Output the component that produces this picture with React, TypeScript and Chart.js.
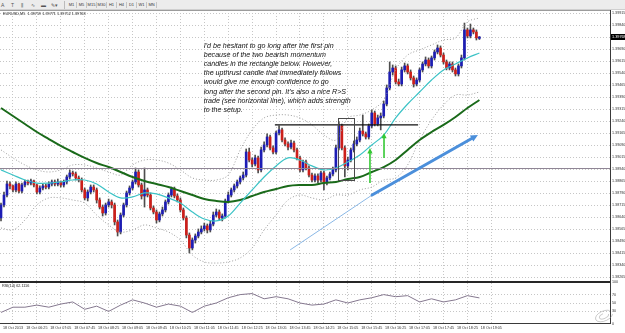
import { useEffect, useRef } from "react";
import { Chart, registerables } from "chart.js";

Chart.register(...registerables);

// ---- EURUSD M5 price data (one entry per bar) ----
const open = [
  1.38637, 1.38718, 1.38780, 1.38849, 1.38837, 1.38812, 1.38849, 1.38805, 1.38843, 1.38862,
  1.38855, 1.38868, 1.38843, 1.38799, 1.38824, 1.38837, 1.38830, 1.38849, 1.38862, 1.38849,
  1.38862, 1.38843, 1.38862, 1.38893, 1.38918, 1.38912, 1.38887, 1.38874, 1.38812, 1.38762,
  1.38799, 1.38830, 1.38812, 1.38749, 1.38705, 1.38668, 1.38718, 1.38737, 1.38718, 1.38612,
  1.38549, 1.38655, 1.38718, 1.38793, 1.38824, 1.38862, 1.38924, 1.38843, 1.38774, 1.38812,
  1.38780, 1.38699, 1.38674, 1.38624, 1.38662, 1.38687, 1.38737, 1.38780, 1.38818, 1.38774,
  1.38749, 1.38687, 1.38637, 1.38530, 1.38449, 1.38499, 1.38524, 1.38549, 1.38568, 1.38587,
  1.38562, 1.38599, 1.38655, 1.38674, 1.38637, 1.38649, 1.38743, 1.38780, 1.38812, 1.38837,
  1.38862, 1.38887, 1.38905, 1.39049, 1.38999, 1.38974, 1.39012, 1.38937, 1.39062, 1.39093,
  1.39143, 1.39074, 1.39049, 1.39168, 1.39187, 1.39124, 1.39099, 1.39080, 1.39105, 1.39062,
  1.39012, 1.38937, 1.38987, 1.38949, 1.38905, 1.38874, 1.38899, 1.38874, 1.38918, 1.38862,
  1.38887, 1.38912, 1.38937, 1.39074, 1.39212, 1.39074, 1.38962, 1.38999, 1.39062, 1.39099,
  1.39124, 1.39180, 1.39162, 1.39143, 1.39212, 1.39293, 1.39224, 1.39262, 1.39274, 1.39349,
  1.39449, 1.39549, 1.39574, 1.39487, 1.39474, 1.39562, 1.39587, 1.39549, 1.39512, 1.39474,
  1.39499, 1.39562, 1.39599, 1.39624, 1.39587, 1.39637, 1.39674, 1.39699, 1.39655, 1.39612,
  1.39574, 1.39599, 1.39562, 1.39537, 1.39587, 1.39637, 1.39812, 1.39774, 1.39812, 1.39799,
  1.39759,
];
const high = [
  1.38730, 1.38799, 1.38868, 1.38862, 1.38843, 1.38862, 1.38855, 1.38855, 1.38874, 1.38874,
  1.38880, 1.38874, 1.38849, 1.38837, 1.38849, 1.38849, 1.38862, 1.38874, 1.38874, 1.38880,
  1.38868, 1.38874, 1.38905, 1.38937, 1.38930, 1.38924, 1.38899, 1.38887, 1.38824, 1.38812,
  1.38843, 1.38843, 1.38824, 1.38762, 1.38718, 1.38730, 1.38755, 1.38749, 1.38730, 1.38624,
  1.38668, 1.38730, 1.38805, 1.38837, 1.38874, 1.38949, 1.38937, 1.38855, 1.38949, 1.38824,
  1.38793, 1.38712, 1.38687, 1.38674, 1.38705, 1.38749, 1.38793, 1.38830, 1.38830, 1.38787,
  1.38762, 1.38699, 1.38649, 1.38543, 1.38512, 1.38537, 1.38568, 1.38587, 1.38605, 1.38599,
  1.38618, 1.38674, 1.38693, 1.38687, 1.38662, 1.38755, 1.38799, 1.38824, 1.38849, 1.38874,
  1.38899, 1.38924, 1.39068, 1.39074, 1.39012, 1.39030, 1.39024, 1.39080, 1.39112, 1.39162,
  1.39155, 1.39087, 1.39180, 1.39212, 1.39199, 1.39137, 1.39112, 1.39124, 1.39118, 1.39074,
  1.39024, 1.38999, 1.38999, 1.38962, 1.38918, 1.38912, 1.38912, 1.38930, 1.38930, 1.38899,
  1.38924, 1.38955, 1.39093, 1.39237, 1.39224, 1.39087, 1.39018, 1.39074, 1.39118, 1.39143,
  1.39199, 1.39280, 1.39174, 1.39224, 1.39312, 1.39305, 1.39280, 1.39293, 1.39368, 1.39468,
  1.39612, 1.39593, 1.39587, 1.39505, 1.39580, 1.39605, 1.39599, 1.39562, 1.39524, 1.39512,
  1.39574, 1.39612, 1.39643, 1.39637, 1.39649, 1.39687, 1.39718, 1.39712, 1.39668, 1.39624,
  1.39612, 1.39612, 1.39574, 1.39599, 1.39655, 1.39855, 1.39824, 1.39849, 1.39824, 1.39812,
  1.39771,
];
const low = [
  1.38618, 1.38705, 1.38768, 1.38818, 1.38799, 1.38799, 1.38793, 1.38793, 1.38830, 1.38843,
  1.38843, 1.38830, 1.38787, 1.38787, 1.38812, 1.38818, 1.38818, 1.38837, 1.38837, 1.38837,
  1.38830, 1.38830, 1.38849, 1.38880, 1.38899, 1.38874, 1.38862, 1.38799, 1.38749, 1.38743,
  1.38787, 1.38799, 1.38730, 1.38693, 1.38649, 1.38655, 1.38705, 1.38699, 1.38593, 1.38524,
  1.38537, 1.38643, 1.38705, 1.38780, 1.38812, 1.38849, 1.38830, 1.38755, 1.38705, 1.38768,
  1.38687, 1.38662, 1.38605, 1.38612, 1.38649, 1.38674, 1.38724, 1.38768, 1.38762, 1.38737,
  1.38674, 1.38624, 1.38512, 1.38418, 1.38437, 1.38480, 1.38512, 1.38537, 1.38555, 1.38543,
  1.38549, 1.38587, 1.38643, 1.38624, 1.38618, 1.38637, 1.38730, 1.38768, 1.38799, 1.38824,
  1.38849, 1.38874, 1.38893, 1.38987, 1.38955, 1.38962, 1.38918, 1.38924, 1.39049, 1.39080,
  1.39062, 1.39037, 1.39037, 1.39155, 1.39112, 1.39087, 1.39062, 1.39068, 1.39049, 1.38999,
  1.38924, 1.38924, 1.38937, 1.38893, 1.38862, 1.38862, 1.38855, 1.38862, 1.38812, 1.38843,
  1.38874, 1.38899, 1.38924, 1.39062, 1.39062, 1.38893, 1.38937, 1.38987, 1.39049, 1.39087,
  1.39112, 1.39149, 1.39130, 1.39130, 1.39199, 1.39212, 1.39212, 1.39187, 1.39262, 1.39337,
  1.39437, 1.39530, 1.39474, 1.39462, 1.39462, 1.39549, 1.39537, 1.39499, 1.39455, 1.39462,
  1.39487, 1.39549, 1.39587, 1.39574, 1.39574, 1.39624, 1.39662, 1.39643, 1.39599, 1.39562,
  1.39562, 1.39549, 1.39524, 1.39524, 1.39574, 1.39624, 1.39762, 1.39762, 1.39787, 1.39749,
  1.39752,
];
const close = [
  1.38718, 1.38780, 1.38849, 1.38837, 1.38812, 1.38849, 1.38805, 1.38843, 1.38862, 1.38855,
  1.38868, 1.38843, 1.38799, 1.38824, 1.38837, 1.38830, 1.38849, 1.38862, 1.38849, 1.38862,
  1.38843, 1.38862, 1.38893, 1.38918, 1.38912, 1.38887, 1.38874, 1.38812, 1.38762, 1.38799,
  1.38830, 1.38812, 1.38749, 1.38705, 1.38668, 1.38718, 1.38737, 1.38718, 1.38612, 1.38549,
  1.38655, 1.38718, 1.38793, 1.38824, 1.38862, 1.38924, 1.38843, 1.38774, 1.38812, 1.38780,
  1.38699, 1.38674, 1.38624, 1.38662, 1.38687, 1.38737, 1.38780, 1.38818, 1.38774, 1.38749,
  1.38687, 1.38637, 1.38530, 1.38449, 1.38499, 1.38524, 1.38549, 1.38568, 1.38587, 1.38562,
  1.38599, 1.38655, 1.38674, 1.38637, 1.38649, 1.38743, 1.38780, 1.38812, 1.38837, 1.38862,
  1.38887, 1.38905, 1.39049, 1.38999, 1.38974, 1.39012, 1.38937, 1.39062, 1.39093, 1.39143,
  1.39074, 1.39049, 1.39168, 1.39187, 1.39124, 1.39099, 1.39080, 1.39105, 1.39062, 1.39012,
  1.38937, 1.38987, 1.38949, 1.38905, 1.38874, 1.38899, 1.38874, 1.38918, 1.38862, 1.38887,
  1.38912, 1.38937, 1.39074, 1.39212, 1.39074, 1.38962, 1.38999, 1.39062, 1.39099, 1.39124,
  1.39180, 1.39162, 1.39143, 1.39212, 1.39293, 1.39224, 1.39262, 1.39274, 1.39349, 1.39449,
  1.39549, 1.39574, 1.39487, 1.39474, 1.39562, 1.39587, 1.39549, 1.39512, 1.39474, 1.39499,
  1.39562, 1.39599, 1.39624, 1.39587, 1.39637, 1.39674, 1.39699, 1.39655, 1.39612, 1.39574,
  1.39599, 1.39562, 1.39537, 1.39587, 1.39637, 1.39812, 1.39774, 1.39812, 1.39799, 1.39762,
  1.39768,
];

// ---- indicator readings, every 4th bar ----
const indicatorBars = [
  0, 4, 8, 12, 16, 20, 24, 28, 32, 36, 40, 44, 48, 52, 56, 60, 64, 68, 72, 76,
  80, 84, 88, 92, 96, 100, 104, 108, 112, 116, 120, 124, 128, 132, 136, 140, 144, 148, 152, 156, 160,
];
const fastMA = [
  1.38937, 1.38905, 1.38874, 1.38855, 1.38855, 1.38862, 1.38874, 1.38874, 1.38849, 1.38799,
  1.38762, 1.38768, 1.38793, 1.38787, 1.38762, 1.38730, 1.38674, 1.38630, 1.38618, 1.38649,
  1.38730, 1.38812, 1.38893, 1.38962, 1.39012, 1.38999, 1.38962, 1.38937, 1.38949, 1.38987,
  1.39030, 1.39093, 1.39155, 1.39262, 1.39349, 1.39424, 1.39499, 1.39562, 1.39599, 1.39637, 1.39668,
];
const slowMA = [
  1.39324, 1.39274, 1.39224, 1.39174, 1.39130, 1.39087, 1.39049, 1.39012, 1.38980, 1.38955,
  1.38924, 1.38893, 1.38868, 1.38849, 1.38830, 1.38805, 1.38780, 1.38755, 1.38743, 1.38737,
  1.38749, 1.38774, 1.38799, 1.38818, 1.38837, 1.38843, 1.38843, 1.38855, 1.38862, 1.38880,
  1.38893, 1.38924, 1.38955, 1.38999, 1.39062, 1.39124, 1.39174, 1.39218, 1.39268, 1.39324, 1.39374,
];
const bandUpper = [
  1.39062, 1.39012, 1.38968, 1.38937, 1.38924, 1.38937, 1.38968, 1.38968, 1.38949, 1.38924,
  1.38905, 1.38968, 1.38999, 1.38999, 1.38980, 1.38937, 1.38887, 1.38874, 1.38874, 1.38905,
  1.39062, 1.39187, 1.39262, 1.39280, 1.39280, 1.39262, 1.39218, 1.39155, 1.39124, 1.39262,
  1.39280, 1.39312, 1.39374, 1.39562, 1.39655, 1.39687, 1.39718, 1.39749, 1.39762, 1.39862, 1.39887,
];
const bandLower = [
  1.38574, 1.38562, 1.38624, 1.38718, 1.38762, 1.38762, 1.38749, 1.38730, 1.38655, 1.38593,
  1.38549, 1.38562, 1.38593, 1.38574, 1.38549, 1.38499, 1.38405, 1.38362, 1.38355, 1.38362,
  1.38387, 1.38449, 1.38562, 1.38655, 1.38749, 1.38780, 1.38762, 1.38749, 1.38780, 1.38780,
  1.38812, 1.38830, 1.38874, 1.38887, 1.38968, 1.39124, 1.39249, 1.39343, 1.39405, 1.39405, 1.39424,
];
const rsi14 = [
  27.5, 40, 40, 45, 40, 47.5, 52.5, 35, 42.5, 30,
  45, 57.5, 50, 40, 47.5, 42.5, 27.5, 42.5, 50, 62.5,
  70, 72.5, 60, 65, 60, 50, 45, 47.5, 57.5, 50,
  57.5, 62.5, 70, 65, 67.5, 52.5, 60, 52.5, 57.5, 67.5, 62.1116,
];

// ---- axis labels ----
const priceTicks = [
  1.39915, 1.3984, 1.39765, 1.3969, 1.39615, 1.3954, 1.39465, 1.3939, 1.39315, 1.3924,
  1.39165, 1.3909, 1.39015, 1.3894, 1.38865, 1.3879, 1.38715, 1.3864, 1.38565, 1.3849,
  1.38415, 1.3834, 1.38265,
];
const rsiTicks = [0, 30, 50, 70, 100];
const timeLabelBars = [4, 12, 20, 28, 36, 44, 52, 60, 68, 76, 84, 92, 100, 108, 116, 124, 132, 140, 148, 156, 164];
const timeLabels = [
  "18 Oct 2013", "18 Oct 06:25", "18 Oct 07:05", "18 Oct 07:45", "18 Oct 08:25", "18 Oct 09:05",
  "18 Oct 09:45", "18 Oct 10:25", "18 Oct 11:05", "18 Oct 11:45", "18 Oct 12:25", "18 Oct 13:05",
  "18 Oct 13:45", "18 Oct 14:25", "18 Oct 15:05", "18 Oct 15:45", "18 Oct 16:25", "18 Oct 17:05",
  "18 Oct 17:45", "18 Oct 18:25", "18 Oct 19:05",
];

// ---- drawn objects ----
const supportLevel = 1.38949;
const resistanceLevel = 1.39218;
const resistanceFrom = 91.6;
const resistanceTo = 139.5;
const boxBars = [112.7, 118.1];
const boxPrices = [1.39262, 1.38874];
const entryArrows = [
  { bar: 123.4, from: 1.38855, to: 1.39074 },
  { bar: 128.1, from: 1.39012, to: 1.39168 },
];
const trendStart = { bar: 96.7, price: 1.38437 };
const trendMid = { bar: 124.1, price: 1.3878 };
const trendEnd = { bar: 159.5, price: 1.39155 };
const noteAnchor = { bar: 67.8, price: 1.39711 };
const noteLines = [
  "I'd be hesitant to go long after the first pin",
  "because of the two bearish momentum",
  "candles in the rectangle below. However,",
  "the upthrust candle that immediately follows",
  "would give me enough confidence to go",
  "long after the second pin. It's also a nice R>S",
  "trade (see horizontal line), which adds strength",
  "to the setup.",
];
const symbolTitle = "EURUSD,M5";
const rsiTitle = "RSI(14) 62.1116";
const timeframes = ["M1", "M5", "M15", "M30", "H1", "H4", "D1", "W1", "MN"];

const BULL = "#1d1db4";
const BEAR = "#cc1f1a";
const SMALL_FONT = "Liberation Sans";

const barIndex = close.map((_, i) => i);
const fmt = (v: number) => v.toFixed(5);

function arrowHead(ctx: CanvasRenderingContext2D, x1: number, y1: number, x2: number, y2: number, size: number) {
  const a = Math.atan2(y2 - y1, x2 - x1);
  ctx.beginPath();
  ctx.moveTo(x2, y2);
  ctx.lineTo(x2 - size * Math.cos(a - 0.45), y2 - size * Math.sin(a - 0.45));
  ctx.lineTo(x2 - size * Math.cos(a + 0.45), y2 - size * Math.sin(a + 0.45));
  ctx.closePath();
  ctx.fill();
}

// scales should not reserve room for half-labels at their ends
const noEdgePadding = (s: any) => {
  s.paddingTop = 0;
  s.paddingBottom = 0;
  s.paddingLeft = 0;
  s.paddingRight = 0;
};

const overlay = {
  id: "overlay",
  afterDatasetsDraw(chart: any) {
    const { ctx, chartArea: area, scales } = chart;
    const x = scales.x;
    const y = scales.y;
    const px = (b: number) => x.getPixelForValue(b);
    const py = (p: number) => y.getPixelForValue(p);
    ctx.save();

    // support level across the whole chart
    ctx.strokeStyle = "#8f8595";
    ctx.lineWidth = 1;
    ctx.beginPath();
    ctx.moveTo(area.left, Math.round(py(supportLevel)) + 0.5);
    ctx.lineTo(area.right, Math.round(py(supportLevel)) + 0.5);
    ctx.stroke();

    // resistance line
    ctx.strokeStyle = "#111";
    ctx.lineWidth = 1.3;
    ctx.beginPath();
    ctx.moveTo(px(resistanceFrom), py(resistanceLevel));
    ctx.lineTo(px(resistanceTo), py(resistanceLevel));
    ctx.stroke();

    // rectangle round the two bearish candles
    ctx.strokeStyle = "#4a4a4a";
    ctx.lineWidth = 1;
    const bx0 = Math.round(px(boxBars[0])) + 0.5;
    const bx1 = Math.round(px(boxBars[1])) + 0.5;
    const by0 = Math.round(py(boxPrices[0])) + 0.5;
    const by1 = Math.round(py(boxPrices[1])) + 0.5;
    ctx.strokeRect(bx0, by0, bx1 - bx0, by1 - by0);

    // entry arrows
    ctx.strokeStyle = "#35c935";
    ctx.fillStyle = "#35c935";
    ctx.lineWidth = 1.6;
    for (const a of entryArrows) {
      const ax = px(a.bar);
      const y0 = py(a.from);
      const y1 = py(a.to);
      ctx.beginPath();
      ctx.moveTo(ax, y0);
      ctx.lineTo(ax, y1 + 4);
      ctx.stroke();
      arrowHead(ctx, ax, y0, ax, y1, 6);
    }

    // trend arrow
    const sx = px(trendStart.bar), sy = py(trendStart.price);
    const mx = px(trendMid.bar), my = py(trendMid.price);
    const ex = px(trendEnd.bar), ey = py(trendEnd.price);
    ctx.strokeStyle = "#8ab8e6";
    ctx.lineWidth = 1;
    ctx.beginPath();
    ctx.moveTo(sx, sy);
    ctx.lineTo(mx, my);
    ctx.stroke();
    ctx.strokeStyle = "#4b8fdb";
    ctx.fillStyle = "#4b8fdb";
    ctx.lineWidth = 3;
    ctx.lineCap = "round";
    ctx.beginPath();
    ctx.moveTo(mx, my);
    ctx.lineTo(ex - 4, ey + 2.2);
    ctx.stroke();
    arrowHead(ctx, mx, my, ex, ey, 8);

    // commentary
    ctx.fillStyle = "#111";
    ctx.font = `italic 7.1px ${SMALL_FONT}`;
    ctx.textBaseline = "middle";
    ctx.textAlign = "left";
    const tx = px(noteAnchor.bar);
    const ty = py(noteAnchor.price);
    noteLines.forEach((line, i) => ctx.fillText(line, tx, ty + i * 9.1));
    ctx.restore();
  },
  afterDraw(chart: any) {
    const { ctx, chartArea: area, scales } = chart;
    const y = scales.y;
    const r = scales.rsi;
    ctx.save();
    // frame
    ctx.strokeStyle = "#9c9c9c";
    ctx.lineWidth = 1;
    ctx.beginPath();
    ctx.moveTo(area.left, area.top + 0.5);
    ctx.lineTo(area.right, area.top + 0.5);
    ctx.stroke();
    ctx.strokeStyle = "#3a3a3a";
    ctx.beginPath();
    ctx.moveTo(area.right + 0.5, area.top);
    ctx.lineTo(area.right + 0.5, area.bottom);
    ctx.moveTo(area.left, area.bottom - 0.5);
    ctx.lineTo(area.right, area.bottom - 0.5);
    ctx.stroke();
    // pane separator
    ctx.strokeStyle = "#262626";
    ctx.lineWidth = 2;
    ctx.beginPath();
    ctx.moveTo(area.left, r.top);
    ctx.lineTo(area.right, r.top);
    ctx.stroke();

    // titles
    ctx.fillStyle = "#222";
    ctx.font = `3.8px ${SMALL_FONT}`;
    ctx.textBaseline = "middle";
    ctx.textAlign = "left";
    const last = close.length - 1;
    ctx.fillText(
      `${symbolTitle}  ${fmt(open[last])} ${fmt(high[last])} ${fmt(low[last])} ${fmt(close[last])}`,
      area.left + 3,
      area.top + 4,
    );
    ctx.fillText(rsiTitle, area.left + 2, r.top + 4);

    // current price marker
    const cy = Math.round(y.getPixelForValue(close[last]));
    ctx.fillStyle = "#000";
    ctx.fillRect(area.right + 1, cy - 3, 15, 6);
    ctx.fillStyle = "#fff";
    ctx.fillText(fmt(close[last]), area.right + 2, cy);

    // watermark
    ctx.strokeStyle = "rgba(140,140,140,0.45)";
    ctx.lineWidth = 1;
    ctx.beginPath();
    ctx.ellipse(area.right - 6, area.bottom - 8, 9, 5, -0.4, 0.3, Math.PI * 1.8);
    ctx.stroke();
    ctx.beginPath();
    ctx.ellipse(area.right - 6, area.bottom - 8, 5, 2.5, -0.4, 0, Math.PI * 1.5);
    ctx.stroke();
    ctx.restore();
  },
};

function Toolbar() {
  const icons = ["A", "T", "⫼", "∿", "▬", "✎▾"];
  return (
    <div
      style={{
        position: "absolute",
        left: 0,
        top: 0,
        width: 625,
        height: 10,
        background: "#ececec",
        borderBottom: "1px solid #cfcfcf",
        boxSizing: "border-box",
        fontFamily: "Liberation Sans, Arial, sans-serif",
        fontSize: 4,
        color: "#333",
      }}
    >
      {icons.map((t, i) => (
        <span
          key={t}
          style={{ position: "absolute", left: 1 + i * 10, top: 2, fontSize: 5, lineHeight: "6px", color: "#555" }}
        >
          {t}
        </span>
      ))}
      <span style={{ position: "absolute", left: 64, top: 1, width: 1, height: 8, background: "#bbb" }} />
      {timeframes.map((t, i) => (
        <span
          key={t}
          style={{
            position: "absolute",
            left: 67 + i * 10,
            top: 2,
            width: 9,
            height: 6,
            lineHeight: "6px",
            textAlign: "center",
            borderRight: "1px solid #c4c4c4",
          }}
        >
          {t}
        </span>
      ))}
    </div>
  );
}

export default function App() {
  const ref = useRef<HTMLCanvasElement>(null);

  useEffect(() => {
    const canvas = ref.current;
    if (!canvas) return;
    const gridDash = { display: false, dash: [1, 2] };
    const chart = new Chart(canvas, {
      data: {
        datasets: [
          {
            type: "line",
            data: indicatorBars.map((b, k) => ({ x: b, y: fastMA[k] })),
            borderColor: "#3cc3c6",
            borderWidth: 1.2,
            pointRadius: 0,
            tension: 0.35,
            yAxisID: "y",
            order: 0,
          },
          {
            type: "line",
            data: indicatorBars.map((b, k) => ({ x: b, y: slowMA[k] })),
            borderColor: "#1a6a1a",
            borderWidth: 2,
            pointRadius: 0,
            tension: 0.35,
            yAxisID: "y",
            order: 0,
          },
          {
            type: "line",
            data: indicatorBars.map((b, k) => ({ x: b, y: bandUpper[k] })),
            borderColor: "#9b9b9b",
            borderWidth: 1,
            borderDash: [1, 2],
            pointRadius: 0,
            tension: 0.35,
            yAxisID: "y",
            order: 0,
          },
          {
            type: "line",
            data: indicatorBars.map((b, k) => ({ x: b, y: bandLower[k] })),
            borderColor: "#9b9b9b",
            borderWidth: 1,
            borderDash: [1, 2],
            pointRadius: 0,
            tension: 0.35,
            yAxisID: "y",
            order: 0,
          },
          {
            type: "bar",
            data: barIndex.map((i) => ({ x: i, y: [low[i], high[i]] })),
            backgroundColor: "#4d4d4d",
            barThickness: 1,
            grouped: false,
            yAxisID: "y",
            order: 2,
          },
          {
            type: "bar",
            data: barIndex.map((i) => ({ x: i, y: [open[i], close[i]] })),
            backgroundColor: barIndex.map((i) => (close[i] >= open[i] ? BULL : BEAR)),
            barThickness: 2,
            minBarLength: 1,
            grouped: false,
            yAxisID: "y",
            order: 1,
          },
          {
            type: "line",
            data: indicatorBars.map((b, k) => ({ x: b, y: rsi14[k] })),
            borderColor: "#85788f",
            borderWidth: 1,
            pointRadius: 0,
            tension: 0,
            yAxisID: "rsi",
            order: 0,
          },
        ] as any,
      },
      options: {
        responsive: false,
        devicePixelRatio: 1,
        animation: false,
        events: [],
        layout: { padding: 0 },
        plugins: { legend: { display: false }, tooltip: { enabled: false } },
        scales: {
          x: {
            type: "linear",
            position: "bottom",
            offset: false,
            min: -0.334,
            max: 203.68,
            afterBuildTicks: (s: any) => {
              s.ticks = timeLabelBars.map((v) => ({ value: v }));
            },
            afterFit: (s: any) => {
              s.height = 9;
              noEdgePadding(s);
            },
            ticks: {
              autoSkip: false,
              maxRotation: 0,
              minRotation: 0,
              padding: 2,
              color: "#333",
              font: { size: 3.7, family: SMALL_FONT },
              callback: (_v: any, i: number) => timeLabels[i] ?? "",
            },
            grid: { color: "#c6c6c6", drawTicks: false, lineWidth: 1, offset: false },
            border: gridDash,
          },
          y: {
            type: "linear",
            position: "right",
            stack: "pane",
            stackWeight: 272,
            min: 1.382365,
            max: 1.399365,
            afterBuildTicks: (s: any) => {
              s.ticks = priceTicks.map((v) => ({ value: v }));
            },
            afterFit: (s: any) => {
              s.width = 15;
              noEdgePadding(s);
            },
            ticks: {
              autoSkip: false,
              padding: 2,
              color: "#333",
              font: { size: 3.7, family: SMALL_FONT },
              callback: (v: any) => Number(v).toFixed(5),
            },
            grid: { color: "#c6c6c6", drawTicks: false, lineWidth: 1 },
            border: gridDash,
          },
          rsi: {
            type: "linear",
            position: "right",
            stack: "pane",
            stackWeight: 42,
            min: 0,
            max: 100,
            afterBuildTicks: (s: any) => {
              s.ticks = rsiTicks.map((v) => ({ value: v }));
            },
            afterFit: (s: any) => {
              s.width = 15;
              noEdgePadding(s);
            },
            ticks: {
              autoSkip: false,
              padding: 2,
              color: "#333",
              font: { size: 3.7, family: SMALL_FONT },
              callback: (v: any) => String(v),
            },
            grid: {
              color: (c: any) => (c.tick && c.tick.value > 0 && c.tick.value < 100 ? "#c6c6c6" : "rgba(0,0,0,0)"),
              drawTicks: false,
              lineWidth: 1,
            },
            border: gridDash,
          },
        },
      } as any,
      plugins: [overlay],
    });
    return () => chart.destroy();
  }, []);

  return (
    <div
      style={{
        position: "fixed",
        left: 0,
        top: 0,
        width: 625,
        height: 333,
        background: "#fff",
        overflow: "hidden",
      }}
    >
      <Toolbar />
      <canvas
        ref={ref}
        width={625}
        height={323}
        style={{ position: "absolute", left: 0, top: 10, width: 625, height: 323 }}
      />
    </div>
  );
}
